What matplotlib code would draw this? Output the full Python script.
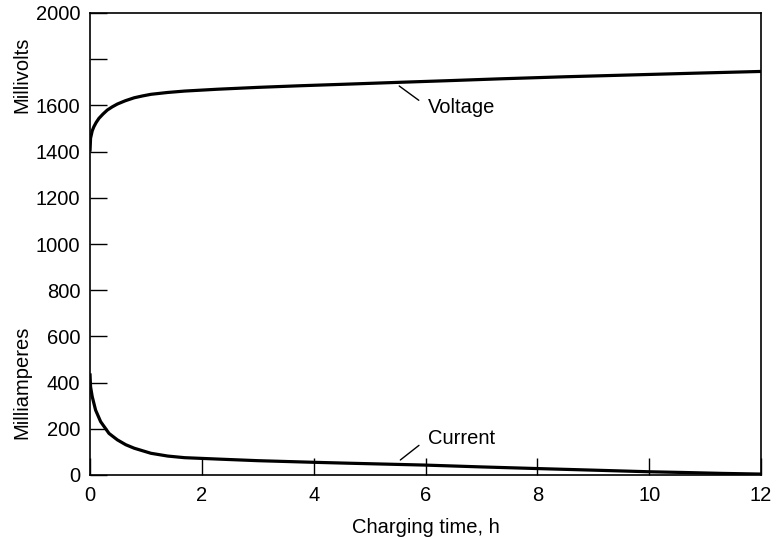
import numpy as np
import matplotlib.pyplot as plt

plt.rcParams['font.family'] = ['Liberation Sans', 'DejaVu Sans']

# charging time, h  /  millivolts
t_volt = [0, 0.01, 0.04, 0.07, 0.11, 0.16, 0.23, 0.31, 0.4, 0.49, 0.63, 0.79, 0.94, 1.09,
          1.39, 1.69, 2.28, 3.0, 3.75, 4.6, 5.54, 6.4, 7.33, 8.5, 9.7, 10.9, 12]
millivolts = [1400, 1458, 1490, 1508, 1526, 1544, 1562, 1580, 1594, 1606, 1620, 1633, 1641, 1648,
              1656, 1662, 1670, 1678, 1685, 1692, 1700, 1707, 1715, 1724, 1732, 1740, 1747]

# charging time, h  /  milliamperes
t_curr = [0, 0.005, 0.01, 0.04, 0.1, 0.19, 0.34, 0.49, 0.64, 0.79, 1.09, 1.39, 1.69, 2.28,
          3.0, 4.0, 4.63, 5.98, 7.0, 7.98, 9.0, 10.0, 10.6, 11.3, 12]
milliamps = [440, 410, 382, 339, 281, 231, 180, 152, 131, 116, 94, 82, 75, 69,
             62, 55, 51, 43, 35, 28, 21, 14, 11, 7, 4]

yticks = [0, 200, 400, 600, 800, 1000, 1200, 1400, 1600, 1800, 2000]
ytick_labels = ['0', '200', '400', '600', '800', '1000', '1200', '1400', '1600', '', '2000']
xticks = [0, 2, 4, 6, 8, 10, 12]

fig = plt.figure(figsize=(7.76, 5.37), dpi=100)
ax = fig.add_axes([90 / 776, 62 / 537, 671 / 776, 462 / 537])

ax.plot(t_volt, millivolts, color='black', lw=2.3, solid_capstyle='butt', solid_joinstyle='round')
ax.plot(t_curr, milliamps, color='black', lw=2.3, solid_capstyle='butt', solid_joinstyle='round')

ax.set_xlim(0, 12)
ax.set_ylim(0, 2000)
ax.set_xticks(xticks)
ax.set_yticks(yticks)
ax.set_yticklabels(ytick_labels)
ax.tick_params(direction='in', length=12, width=1.0, labelsize=14.5, colors='black')
ax.tick_params(axis='x', pad=8)
ax.tick_params(axis='y', pad=7)
for s in ax.spines.values():
    s.set_linewidth(1.2)

ax.set_xlabel('Charging time, h', fontsize=14.5, labelpad=9)
fig.text(22 / 776, 1 - 75 / 537, 'Millivolts', rotation=90, ha='center', va='center', fontsize=14.5)
fig.text(22 / 776, 1 - 382 / 537, 'Milliamperes', rotation=90, ha='center', va='center', fontsize=14.5)

# annotations
ax.annotate('Voltage', xy=(5.53, 1684), xytext=(6.05, 1592),
            fontsize=14.5, ha='left', va='center',
            arrowprops=dict(arrowstyle='-', color='black', lw=1.0,
                            relpos=(0, 0.5), shrinkA=6, shrinkB=0))
ax.annotate('Current', xy=(5.55, 65), xytext=(6.05, 160),
            fontsize=14.5, ha='left', va='center',
            arrowprops=dict(arrowstyle='-', color='black', lw=1.0,
                            relpos=(0, 0.5), shrinkA=6, shrinkB=0))

fig.savefig('out.png', dpi=100)
